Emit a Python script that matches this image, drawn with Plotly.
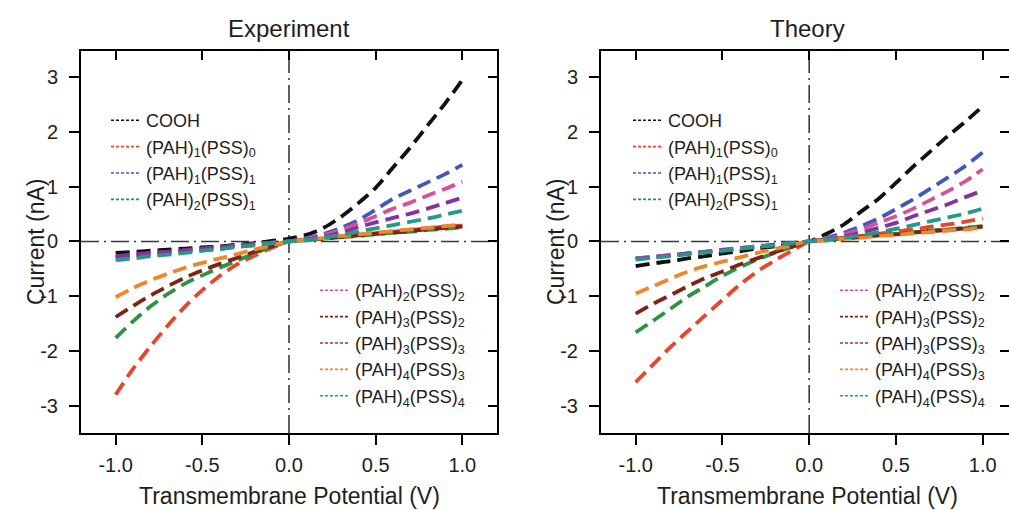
import plotly.graph_objects as go

# transmembrane potential (V)
potential = [-1.0, -0.9, -0.8, -0.7, -0.6, -0.5, -0.4, -0.3, -0.2, -0.1, 0.0,
             0.1, 0.2, 0.3, 0.4, 0.5, 0.6, 0.7, 0.8, 0.9, 1.0]

series_names = [
    "COOH",
    "(PAH)<sub>1</sub>(PSS)<sub>0</sub>",
    "(PAH)<sub>1</sub>(PSS)<sub>1</sub>",
    "(PAH)<sub>2</sub>(PSS)<sub>1</sub>",
    "(PAH)<sub>2</sub>(PSS)<sub>2</sub>",
    "(PAH)<sub>3</sub>(PSS)<sub>2</sub>",
    "(PAH)<sub>3</sub>(PSS)<sub>3</sub>",
    "(PAH)<sub>4</sub>(PSS)<sub>3</sub>",
    "(PAH)<sub>4</sub>(PSS)<sub>4</sub>",
]
series_colors = ["#111111", "#e8462a", "#4457b8", "#2a9444", "#d8509c",
                 "#7b2418", "#86329a", "#f0862a", "#23998a"]

# current (nA), experiment
exp_cooh = [-0.21, -0.19, -0.17, -0.15, -0.13, -0.11, -0.09, -0.06, -0.03, 0.01, 0.05,
            0.12, 0.25, 0.45, 0.70, 0.98, 1.35, 1.72, 2.12, 2.52, 2.95]
exp_p1s0 = [-2.80, -2.33, -1.92, -1.54, -1.19, -0.89, -0.63, -0.42, -0.26, -0.12, 0.0,
            0.03, 0.06, 0.09, 0.12, 0.15, 0.18, 0.21, 0.24, 0.27, 0.29]
exp_p1s1 = [-0.30, -0.27, -0.24, -0.21, -0.18, -0.15, -0.12, -0.09, -0.06, -0.03, 0.0,
            0.06, 0.14, 0.25, 0.39, 0.58, 0.78, 0.93, 1.08, 1.23, 1.40]
exp_p2s1 = [-1.76, -1.46, -1.19, -0.96, -0.77, -0.62, -0.48, -0.35, -0.22, -0.10, 0.0,
            0.025, 0.05, 0.08, 0.10, 0.13, 0.16, 0.18, 0.21, 0.23, 0.26]
exp_p2s2 = [-0.28, -0.25, -0.22, -0.19, -0.17, -0.14, -0.11, -0.08, -0.05, -0.02, 0.0,
            0.05, 0.12, 0.21, 0.33, 0.46, 0.60, 0.71, 0.84, 0.96, 1.09]
exp_p3s2 = [-1.38, -1.18, -0.99, -0.82, -0.66, -0.53, -0.41, -0.30, -0.19, -0.09, 0.0,
            0.03, 0.05, 0.08, 0.11, 0.14, 0.16, 0.19, 0.22, 0.25, 0.27]
exp_p3s3 = [-0.27, -0.24, -0.21, -0.19, -0.16, -0.13, -0.10, -0.08, -0.05, -0.02, 0.0,
            0.04, 0.09, 0.16, 0.26, 0.35, 0.43, 0.51, 0.60, 0.70, 0.80]
exp_p4s3 = [-1.02, -0.85, -0.71, -0.59, -0.48, -0.39, -0.31, -0.23, -0.15, -0.07, 0.0,
            0.03, 0.06, 0.10, 0.13, 0.16, 0.19, 0.22, 0.25, 0.28, 0.31]
exp_p4s4 = [-0.34, -0.31, -0.27, -0.24, -0.21, -0.17, -0.14, -0.10, -0.07, -0.03, 0.0,
            0.03, 0.07, 0.12, 0.18, 0.24, 0.30, 0.36, 0.42, 0.49, 0.56]

# current (nA), theory
th_cooh = [-0.45, -0.40, -0.36, -0.31, -0.27, -0.22, -0.18, -0.13, -0.09, -0.04, 0.0,
           0.14, 0.31, 0.55, 0.78, 1.07, 1.37, 1.65, 1.93, 2.19, 2.47]
th_p1s0 = [-2.57, -2.25, -1.93, -1.64, -1.35, -1.07, -0.79, -0.55, -0.35, -0.17, 0.0,
           0.03, 0.07, 0.10, 0.14, 0.18, 0.22, 0.27, 0.31, 0.36, 0.42]
th_p1s1 = [-0.31, -0.28, -0.25, -0.22, -0.19, -0.16, -0.12, -0.09, -0.06, -0.03, 0.0,
           0.07, 0.16, 0.28, 0.42, 0.59, 0.77, 0.97, 1.17, 1.38, 1.63]
th_p2s1 = [-1.66, -1.45, -1.23, -1.01, -0.82, -0.63, -0.47, -0.33, -0.21, -0.10, 0.0,
           0.03, 0.06, 0.09, 0.11, 0.14, 0.17, 0.20, 0.22, 0.25, 0.28]
th_p2s2 = [-0.31, -0.28, -0.25, -0.22, -0.19, -0.15, -0.12, -0.09, -0.06, -0.03, 0.0,
           0.05, 0.13, 0.22, 0.34, 0.46, 0.60, 0.76, 0.92, 1.10, 1.32]
th_p3s2 = [-1.32, -1.14, -0.98, -0.82, -0.67, -0.55, -0.42, -0.31, -0.20, -0.10, 0.0,
           0.03, 0.05, 0.08, 0.11, 0.13, 0.16, 0.19, 0.21, 0.24, 0.27]
th_p3s3 = [-0.32, -0.29, -0.26, -0.22, -0.19, -0.16, -0.13, -0.10, -0.06, -0.03, 0.0,
           0.04, 0.09, 0.16, 0.25, 0.34, 0.46, 0.57, 0.68, 0.81, 0.93]
th_p4s3 = [-0.95, -0.82, -0.68, -0.55, -0.45, -0.37, -0.29, -0.21, -0.14, -0.07, 0.0,
           0.02, 0.05, 0.07, 0.10, 0.12, 0.15, 0.17, 0.20, 0.22, 0.25]
th_p4s4 = [-0.33, -0.30, -0.27, -0.23, -0.20, -0.17, -0.13, -0.10, -0.07, -0.03, 0.0,
           0.03, 0.07, 0.11, 0.17, 0.23, 0.30, 0.37, 0.44, 0.51, 0.60]

experiment = [exp_cooh, exp_p1s0, exp_p1s1, exp_p2s1, exp_p2s2,
              exp_p3s2, exp_p3s3, exp_p4s3, exp_p4s4]
theory = [th_cooh, th_p1s0, th_p1s1, th_p2s1, th_p2s2,
          th_p3s2, th_p3s3, th_p4s3, th_p4s4]

x_ticks = [-1.0, -0.5, 0.0, 0.5, 1.0]
x_ticktext = ["-1.0", "-0.5", "0.0", "0.5", "1.0"]
y_ticks = [-3, -2, -1, 0, 1, 2, 3]
y_ticktext = ["-3", "-2", "-1", "0", "1", "2", "3"]

W, H = 1009, 510
FONT = "Liberation Sans, Arial, sans-serif"
TXT = "#1e1e1e"


def px(x):
    return x / W


def py(y):
    return 1 - y / H


fig = go.Figure()

# legend placement: first four entries top-left, rest lower-right
legend_of = {0: ("legend", "legend2"), 1: ("legend3", "legend4")}

for panel, data in enumerate([experiment, theory]):
    xa = "x" if panel == 0 else "x2"
    ya = "y" if panel == 0 else "y2"
    for i, (name, color, vals) in enumerate(zip(series_names, series_colors, data)):
        fig.add_trace(go.Scatter(
            x=potential, y=vals, mode="lines", xaxis=xa, yaxis=ya,
            line=dict(color=color, width=3.8, dash="14px,7px", shape="spline",
                      smoothing=0.8),
            showlegend=False, hoverinfo="skip",
        ))
        # legend-only entry with thin short dashes
        fig.add_trace(go.Scatter(
            x=[None], y=[None], mode="lines", xaxis=xa, yaxis=ya, name=name,
            line=dict(color=color, width=1.6, dash="3px,2px"),
            legend=legend_of[panel][0] if i < 4 else legend_of[panel][1],
        ))

# empty traces on the overlay axes that carry the inside ticks (top/right)
fig.add_trace(go.Scatter(x=[None], y=[None], xaxis="x3", yaxis="y3", showlegend=False))
fig.add_trace(go.Scatter(x=[None], y=[None], xaxis="x4", yaxis="y4", showlegend=False))

ydom = [py(433), py(51)]
left_dom = [px(81), px(497)]
right_dom = [px(601), 1.0]
xr_left = [-1.2, 1.2]
xr_right = [-1.2, -1.2 + (1009 - 601) / 173.5]
yr = [-3.5, 3.48]

axis_font = dict(family=FONT, size=20, color=TXT)
base_x = dict(tickvals=x_ticks, ticktext=x_ticktext, ticks="outside",
              ticklen=10, tickwidth=2, tickcolor="black", showline=True, linewidth=2,
              linecolor="black", showgrid=False, zeroline=False, tickfont=axis_font,
              ticklabelstandoff=3, fixedrange=True)
base_y = dict(range=yr, tickvals=y_ticks, ticktext=y_ticktext, ticks="outside",
              ticklen=10, tickwidth=2, tickcolor="black", showline=True, linewidth=2,
              linecolor="black", showgrid=False, zeroline=False, tickfont=axis_font,
              ticklabelstandoff=7, fixedrange=True)
inside_x = dict(tickvals=x_ticks, ticks="inside", ticklen=9, tickwidth=2, tickcolor="black",
                showticklabels=False, showline=False, showgrid=False, zeroline=False,
                side="top", fixedrange=True)
inside_y = dict(range=yr, tickvals=y_ticks, ticks="inside", ticklen=9, tickwidth=2,
                tickcolor="black", showticklabels=False, showline=False, showgrid=False,
                zeroline=False, side="right", fixedrange=True)

legend_style = dict(font=dict(family=FONT, size=18, color=TXT), bgcolor="rgba(0,0,0,0)",
                    xanchor="left", yanchor="top", tracegroupgap=0, itemwidth=30)

fig.update_layout(
    width=W, height=H,
    margin=dict(l=0, r=0, t=0, b=0),
    paper_bgcolor="white", plot_bgcolor="white",
    font=dict(family=FONT, color=TXT),
    xaxis={**base_x, "range": xr_left, "domain": left_dom, "anchor": "y", "mirror": True},
    yaxis={**base_y, "domain": ydom, "anchor": "x", "mirror": True},
    xaxis2={**base_x, "range": xr_right, "domain": right_dom, "anchor": "y2", "mirror": True},
    yaxis2={**base_y, "domain": ydom, "anchor": "x2"},
    xaxis3={**inside_x, "range": xr_left, "overlaying": "x", "anchor": "y3"},
    yaxis3={**inside_y, "overlaying": "y", "anchor": "x3"},
    xaxis4={**inside_x, "range": xr_right, "overlaying": "x2", "anchor": "y4"},
    yaxis4={**inside_y, "overlaying": "y2", "anchor": "x4"},
    legend={**legend_style, "x": px(106), "y": py(102)},
    legend2={**legend_style, "x": px(315), "y": py(272)},
    legend3={**legend_style, "x": px(628), "y": py(102)},
    legend4={**legend_style, "x": px(835), "y": py(272)},
    showlegend=True,
)

# dash-dot reference lines through the origin
for xa, ya in [("x", "y"), ("x2", "y2")]:
    dash_line = dict(color="#3a3a3a", width=1.6, dash="18px,5px,2px,5px")
    fig.add_shape(type="line", xref=xa, yref=f"{ya} domain", x0=0, x1=0, y0=0, y1=1,
                  line=dash_line, layer="below")
    fig.add_shape(type="line", xref=f"{xa} domain", yref=ya, x0=0, x1=1, y0=0, y1=0,
                  line=dash_line, layer="below")

panel_font = dict(family=FONT, size=24, color=TXT)
title_font = dict(family=FONT, size=23, color=TXT)
for cx, cy_label, title in [(289, 36, "Experiment"), (807, 556, "Theory")]:
    fig.add_annotation(text=title, x=px(cx), y=py(28), xref="paper", yref="paper",
                       showarrow=False, font=panel_font, xanchor="center", yanchor="middle")
    fig.add_annotation(text="Transmembrane Potential (V)", x=px(cx), y=py(496),
                       xref="paper", yref="paper", showarrow=False, font=title_font,
                       xanchor="center", yanchor="middle")
    fig.add_annotation(text="Current (nA)", x=px(cy_label), y=py(242), xref="paper",
                       yref="paper", showarrow=False, font=title_font, textangle=-90,
                       xanchor="center", yanchor="middle")

fig.write_html("out.html", config={"displayModeBar": False},
               post_script="document.body.style.margin='0';")
